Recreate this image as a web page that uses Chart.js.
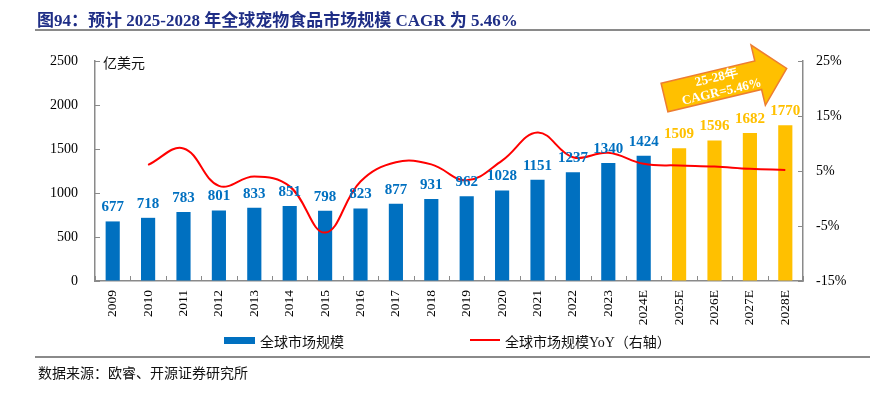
<!DOCTYPE html>
<html><head><meta charset="utf-8">
<script src="https://cdn.jsdelivr.net/npm/chart.js@4/dist/chart.umd.min.js"></script>
<style>
html,body{margin:0;padding:0;background:#fff;}
body{width:870px;height:398px;overflow:hidden;position:relative;}
#c{position:absolute;left:0;top:0;}
.t{position:absolute;white-space:nowrap;}
#title{left:37px;top:6px;font:bold 17px "Liberation Serif","Noto Sans CJK SC",serif;color:#1f2e86;}
.rule{position:absolute;left:35px;width:835px;height:2px;background:#8a8a8a;}
.cjk{font:14px "Liberation Serif","Noto Sans CJK SC",serif;color:#111;}
</style></head>
<body>
<canvas id="c" width="870" height="398"></canvas>
<div id="title" class="t">图94：预计 2025-2028 年全球宠物食品市场规模 CAGR 为 5.46%</div>
<div class="rule" style="top:29px"></div>
<div class="t cjk" style="left:103px;top:52px;">亿美元</div>
<div style="position:absolute;left:224px;top:337px;width:31px;height:7px;background:#0070C0"></div>
<div class="t cjk" style="left:260px;top:331px;">全球市场规模</div>
<div style="position:absolute;left:470px;top:339px;width:30px;height:2px;background:#FF0000"></div>
<div class="t cjk" style="left:505px;top:331px;">全球市场规模YoY（右轴）</div>
<div class="rule" style="top:356px"></div>
<div class="t cjk" style="left:38px;top:362px;">数据来源：欧睿、开源证券研究所</div>
<script>
const categories = ['2009','2010','2011','2012','2013','2014','2015','2016','2017','2018','2019','2020','2021','2022','2023','2024E','2025E','2026E','2027E','2028E'];
const marketSize = [677,718,783,801,833,851,798,823,877,931,962,1028,1151,1237,1340,1424,1509,1596,1682,1770];
const yoyPct = [null,6.1,9.1,2.3,4.0,2.2,-6.2,3.1,6.6,6.2,3.3,6.9,12.0,7.5,8.3,6.3,6.0,5.8,5.4,5.2];
const leftTicks = [0,500,1000,1500,2000,2500];
const rightTicks = [-15,-5,5,15,25];
const firstForecast = '2025E';
const arrowText = ['25-28年','CAGR=5.46%'];

const BLUE='#0070C0', YELLOW='#FFC000', AXIS='#8a8a8a';
const fcIdx = categories.indexOf(firstForecast);
const barColor = i => i >= fcIdx ? YELLOW : BLUE;
const SERIF = '"Liberation Serif","Times New Roman",serif';

const decor = {
  id:'decor',
  afterDatasetsDraw(chart){
    const ctx = chart.ctx, area = chart.chartArea;
    const xs = chart.scales.x, ys = chart.scales.y, ys1 = chart.scales.y1;
    ctx.save();
    ctx.strokeStyle = AXIS; ctx.lineWidth = 1;
    ctx.beginPath();
    leftTicks.forEach(v=>{const p=Math.round(ys.getPixelForValue(v))+0.5; ctx.moveTo(area.left,p); ctx.lineTo(area.left+5,p);});
    rightTicks.forEach(v=>{const p=Math.round(ys1.getPixelForValue(v))+0.5; ctx.moveTo(area.right,p); ctx.lineTo(area.right-5,p);});
    for(let i=0;i<=categories.length;i++){
      const p=Math.round(xs.getPixelForValue(i-0.5))+0.5;
      ctx.moveTo(p,area.bottom); ctx.lineTo(p,area.bottom-5);
    }
    ctx.stroke();
    ctx.fillStyle='#000'; ctx.font='13.5px '+SERIF;
    ctx.textAlign='right'; ctx.textBaseline='middle';
    categories.forEach((c,i)=>{
      const px = xs.getPixelForValue(i);
      ctx.save(); ctx.translate(px, area.bottom+9); ctx.rotate(-Math.PI/2);
      ctx.fillText(c,0,0); ctx.restore();
    });
    ctx.font='bold 15px '+SERIF; ctx.textAlign='center'; ctx.textBaseline='middle';
    const barIdx = chart.data.datasets.findIndex(d=>d.type==='bar');
    chart.getDatasetMeta(barIdx).data.forEach((el,i)=>{
      ctx.fillStyle = barColor(i);
      ctx.fillText(String(marketSize[i]), el.x, el.y-14);
    });
    ctx.restore();
  },
  afterDraw(chart){
    const ctx = chart.ctx;
    ctx.save();
    ctx.translate(664.5, 97.5);
    ctx.rotate(-13.4*Math.PI/180);
    const L=125.6, HL=29.3, HW=31, SW=14.7;
    ctx.beginPath();
    ctx.moveTo(0,-SW); ctx.lineTo(L-HL,-SW); ctx.lineTo(L-HL,-HW); ctx.lineTo(L,0);
    ctx.lineTo(L-HL,HW); ctx.lineTo(L-HL,SW); ctx.lineTo(0,SW); ctx.closePath();
    ctx.fillStyle=YELLOW; ctx.fill();
    ctx.strokeStyle='#ED7D31'; ctx.lineWidth=1.5; ctx.stroke();
    ctx.fillStyle='#fff'; ctx.font='bold 13px '+SERIF; ctx.textAlign='center'; ctx.textBaseline='middle';
    ctx.fillText(arrowText[0],55,-7);
    ctx.fillText(arrowText[1],57,8);
    ctx.restore();
  }
};

new Chart(document.getElementById('c'),{
  data:{
    labels: categories,
    datasets:[
      {type:'line', label:'全球市场规模YoY（右轴）', data: yoyPct, yAxisID:'y1',
       borderColor:'#FF0000', borderWidth:2, pointRadius:0, tension:0.4, fill:false, order:0},
      {type:'bar', label:'全球市场规模', data: marketSize, yAxisID:'y',
       backgroundColor: ctx=>barColor(ctx.dataIndex), barPercentage:0.4, categoryPercentage:1, order:1}
    ]
  },
  plugins:[decor],
  options:{
    responsive:false, animation:false, devicePixelRatio:1,
    layout:{padding:{top:61,left:0,right:0,bottom:0}},
    plugins:{legend:{display:false}, title:{display:false}, tooltip:{enabled:false}},
    scales:{
      x:{offset:true, grid:{display:true, drawOnChartArea:false, drawTicks:false},
         border:{display:true,color:AXIS,width:1.5},
         ticks:{display:false},
         afterFit(s){s.height=117;}},
      y:{position:'left', min:0, max:2500,
         grid:{display:true, drawOnChartArea:false, drawTicks:false},
         border:{display:true,color:AXIS,width:1.5},
         afterBuildTicks(s){s.ticks=leftTicks.map(v=>({value:v}));},
         ticks:{padding:17, color:'#000', font:{family:SERIF,size:14}, callback:v=>String(v)},
         afterFit(s){s.width=95;}},
      y1:{position:'right', min:-15, max:25,
         grid:{display:true, drawOnChartArea:false, drawTicks:false},
         border:{display:true,color:AXIS,width:1.5},
         afterBuildTicks(s){s.ticks=rightTicks.map(v=>({value:v}));},
         ticks:{padding:13, color:'#000', font:{family:SERIF,size:14}, callback:v=>v+'%'},
         afterFit(s){s.width=67;}}
    }
  }
});
</script>
</body></html>
